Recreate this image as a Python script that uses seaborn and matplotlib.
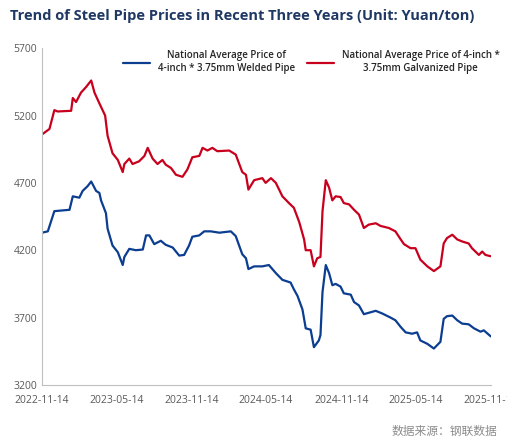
import pandas as pd
import matplotlib
matplotlib.use("Agg")
import matplotlib.pyplot as plt
import seaborn as sns

start = pd.Timestamp("2022-11-14")

# Galvanized pipe (red): days since 2022-11-14 and price
red_days = [0, 18, 30, 38, 71, 75, 83, 95, 107, 120, 128, 140, 154, 160, 172, 185, 197, 201, 213, 221,
            237, 250, 258, 270, 282, 294, 302, 315, 327, 343, 355, 367, 384, 392, 404, 416, 428, 457, 473,
            489, 498, 504, 518, 538, 546, 559, 571, 587, 603, 615, 628, 640, 644, 656, 664, 672, 680, 685,
            693, 701, 709, 717, 729, 737, 750, 762, 774, 786, 798, 815, 827, 847, 863, 876, 884, 900, 912,
            924, 941, 957, 973, 981, 989, 1002, 1014, 1026, 1042, 1050, 1067, 1075, 1083, 1096]
red_vals = [5060, 5100, 5240, 5230, 5235, 5330, 5300, 5370, 5410, 5460, 5370, 5290, 5200, 5050, 4920,
            4870, 4780, 4840, 4880, 4840, 4860, 4900, 4960, 4880, 4840, 4870, 4835, 4810, 4760, 4745,
            4800, 4890, 4900, 4960, 4940, 4960, 4935, 4940, 4910, 4780, 4760, 4650, 4720, 4735, 4700,
            4735, 4700, 4600, 4550, 4515, 4410, 4280, 4200, 4200, 4080, 4140, 4150, 4490, 4720, 4665,
            4570, 4600, 4595, 4550, 4540, 4500, 4465, 4365, 4390, 4400, 4380, 4365, 4340, 4280, 4245,
            4215, 4215, 4130, 4080, 4045, 4080, 4250, 4290, 4315, 4280, 4265, 4250, 4215, 4165, 4190,
            4165, 4155]

# Welded pipe (blue)
blue_days = [0, 14, 30, 67, 75, 91, 99, 111, 120, 132, 140, 144, 156, 160, 172, 185, 197, 201, 213, 229,
             246, 254, 262, 274, 290, 302, 319, 335, 347, 359, 367, 384, 396, 412, 433, 461, 473, 489, 498,
             504, 518, 538, 554, 571, 587, 607, 615, 624, 636, 644, 656, 664, 676, 680, 685, 693, 701, 709,
             717, 729, 737, 754, 762, 774, 786, 815, 831, 851, 863, 876, 888, 904, 916, 924, 941, 957, 973,
             981, 989, 1002, 1014, 1026, 1042, 1055, 1071, 1079, 1096]
blue_vals = [4330, 4340, 4490, 4500, 4600, 4590, 4640, 4675, 4710, 4640, 4625, 4570, 4475, 4360, 4235,
             4185, 4090, 4150, 4210, 4200, 4205, 4310, 4310, 4245, 4270, 4240, 4220, 4160, 4165, 4235,
             4300, 4310, 4340, 4340, 4330, 4340, 4305, 4170, 4140, 4060, 4080, 4080, 4090, 4030, 3980,
             3960, 3910, 3860, 3760, 3620, 3610, 3480, 3530, 3570, 3890, 4090, 4030, 3940, 3950, 3930,
             3880, 3870, 3815, 3790, 3725, 3750, 3730, 3700, 3680, 3630, 3590, 3580, 3590, 3530, 3505,
             3470, 3520, 3690, 3710, 3715, 3680, 3655, 3650, 3620, 3595, 3605, 3560]

tick_dates = ["2022-11-14", "2023-05-14", "2023-11-14", "2024-05-14", "2024-11-14", "2025-05-14", "2025-11-14"]

blue_df = pd.DataFrame({"date": start + pd.to_timedelta(blue_days, unit="D"), "price": blue_vals})
red_df = pd.DataFrame({"date": start + pd.to_timedelta(red_days, unit="D"), "price": red_vals})

sns.set_style("white")
plt.rcParams["font.family"] = ["Open Sans", "DejaVu Sans"]

fig = plt.figure(figsize=(5.07, 4.46), dpi=100)
ax = fig.add_axes([0.083, 0.137, 0.885, 0.755])

sns.lineplot(data=blue_df, x="date", y="price", ax=ax, color="#0b3d91", linewidth=1.6,
             label="National Average Price of\n4-inch * 3.75mm Welded Pipe")
sns.lineplot(data=red_df, x="date", y="price", ax=ax, color="#c8001e", linewidth=1.6,
             label="National Average Price of 4-inch *\n3.75mm Galvanized Pipe")

ax.set_ylim(3200, 5700)
ax.set_yticks([3200, 3700, 4200, 4700, 5200, 5700])
ax.set_xlim(pd.Timestamp(tick_dates[0]), pd.Timestamp(tick_dates[-1]))
ax.set_xticks([pd.Timestamp(d) for d in tick_dates])
ax.set_xticklabels(tick_dates)
ax.tick_params(axis="both", labelsize=7.5, colors="#595959", length=0)
ax.tick_params(axis="x", length=4, color="#bfbfbf", direction="out")
ax.set_xlabel("")
ax.set_ylabel("")
for s in ["top", "right"]:
    ax.spines[s].set_visible(False)
for s in ["left", "bottom"]:
    ax.spines[s].set_color("#bfbfbf")
    ax.spines[s].set_linewidth(0.8)

leg = ax.legend(loc="upper center", bbox_to_anchor=(0.6, 1.02), ncol=2, frameon=False,
                prop={"size": 7, "weight": "semibold"}, handlelength=2.8, columnspacing=1.2)
for t in leg.get_texts():
    t.set_multialignment("center")
    t.set_color("#262626")

fig.text(0.02, 0.955, "Trend of Steel Pipe Prices in Recent Three Years (Unit: Yuan/ton)",
         fontsize=10.5, fontweight="bold", color="#1f3864")
fig.text(0.98, 0.025, "数据来源：钢联数据", fontsize=8.5, color="#8c8c8c", ha="right",
         family=["Noto Sans CJK SC", "DejaVu Sans"])

fig.savefig("out.png", dpi=100)
